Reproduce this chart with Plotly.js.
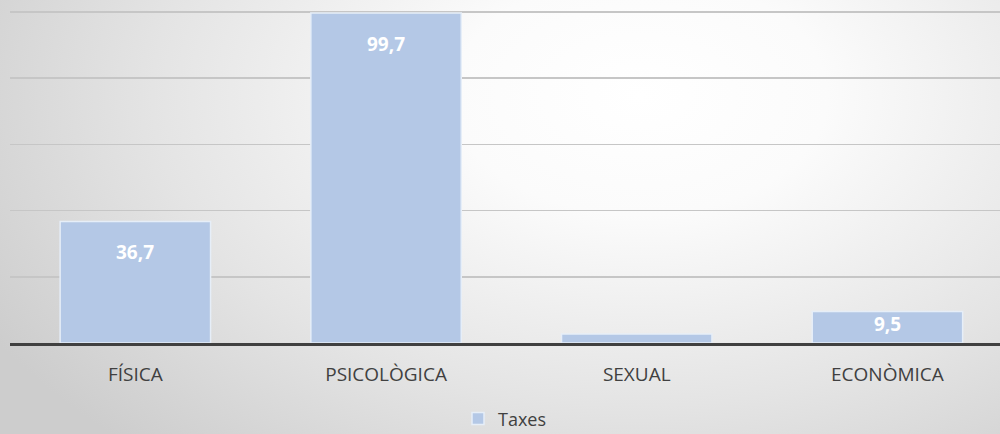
<!DOCTYPE html>
<html>
<head>
<meta charset="utf-8">
<script src="https://cdn.plot.ly/plotly-3.0.1.min.js"></script>
<style>
html,body{margin:0;padding:0;width:1000px;height:434px;overflow:hidden;}
body{background:radial-gradient(ellipse 75% 110% at 64% 22%, #ffffff 0%, #fbfbfb 25%, #e4e4e4 65%, #cdcdcd 100%);}
#chart{width:1000px;height:434px;}
</style>
</head>
<body>
<div id="chart"></div>
<script>
const categories = ["FÍSICA", "PSICOLÒGICA", "SEXUAL", "ECONÒMICA"];
const values = [36.7, 99.7, 2.7, 9.5];
const labels = ["36,7", "99,7", "", "9,5"];
const seriesName = "Taxes";

const trace = {
  type: "bar",
  name: seriesName,
  x: categories,
  y: values,
  marker: {color: "#b4c8e6", line: {color: "#e6eef8", width: 1.5}},
  hoverinfo: "none",
  showlegend: true
};

const annotations = categories.map((c, i) => ({
  x: c, y: values[i], xref: "x", yref: "y",
  text: labels[i] ? "<b>" + labels[i] + "</b>" : "",
  showarrow: false, yanchor: "top",
  yshift: values[i] > 20 ? -16 : 3,
  font: {family: "Open Sans, sans-serif", size: 19, color: "#ffffff"}
}));

const layout = {
  width: 1000, height: 434,
  margin: {l: 10, r: 0, t: 0, b: 91, autoexpand: false},
  paper_bgcolor: "rgba(0,0,0,0)",
  plot_bgcolor: "rgba(0,0,0,0)",
  bargap: 0.4,
  xaxis: {
    range: [-0.5, 3.449],
    showline: true, linecolor: "#404040", linewidth: 3, layer: "above traces",
    showgrid: false, ticks: "", ticklabelstandoff: 12,
    tickfont: {family: "Open Sans, sans-serif", size: 19, color: "#404040"},
    fixedrange: true
  },
  yaxis: {
    range: [0, 103.6], dtick: 20, showticklabels: false,
    showgrid: true, gridcolor: "#c6c6c6", gridwidth: 1.5,
    zeroline: false, fixedrange: true
  },
  showlegend: true,
  legend: {
    orientation: "h", x: 0.5, xanchor: "center",
    yref: "container", y: 0.035, yanchor: "middle",
    font: {family: "Open Sans, sans-serif", size: 18, color: "#404040"},
    bgcolor: "rgba(0,0,0,0)", itemwidth: 30
  },
  annotations: annotations
};

Plotly.newPlot("chart", [trace], layout, {displayModeBar: false, staticPlot: true});
</script>
</body>
</html>
